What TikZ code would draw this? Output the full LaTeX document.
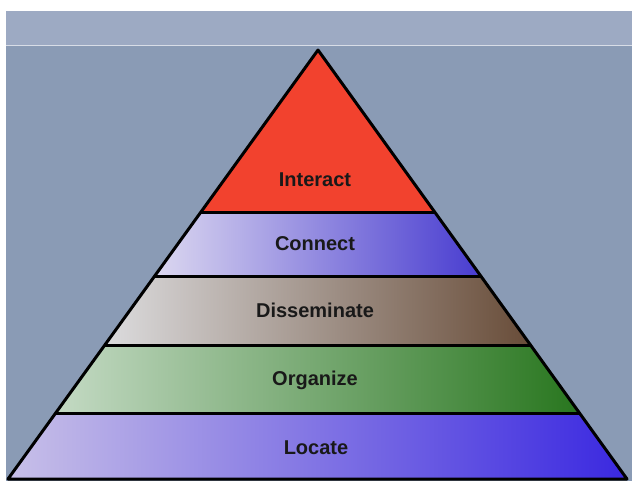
\documentclass[tikz,border=0pt]{standalone}
\usepackage{fontspec}
\setmainfont{Liberation Sans}
\definecolor{bgmain}{HTML}{8A9BB5}
\definecolor{bgtop}{HTML}{9DAAC3}
\definecolor{redtop}{RGB}{242,66,46}
\definecolor{c1l}{RGB}{220,216,240}\definecolor{c1r}{RGB}{72,60,208}
\definecolor{c2l}{RGB}{220,220,222}\definecolor{c2r}{RGB}{104,76,56}
\definecolor{c3l}{RGB}{196,218,196}\definecolor{c3r}{RGB}{40,118,30}
\definecolor{c4l}{RGB}{200,192,232}\definecolor{c4r}{RGB}{58,40,224}
\begin{document}
\begin{tikzpicture}[x=1pt,y=-1pt,
  lbl/.style={font=\bfseries\fontsize{20}{23}\selectfont, text=black!90},
  band/.style={draw=black, line width=3pt, line join=round}]
\useasboundingbox (0,0) rectangle (638,493);
\fill[white] (0,0) rectangle (638,493);
\fill[bgmain] (6,11) rectangle (632,481);
\fill[bgtop] (6,11) rectangle (632,45);
\draw[white!60!bgtop, line width=0.8pt] (6,45) -- (632,45);
\coordinate (A) at (318,50);
\coordinate (L1) at (200.6,212); \coordinate (R1) at (435.1,212);
\coordinate (L2) at (154.2,276); \coordinate (R2) at (481.3,276);
\coordinate (L3) at (104.2,345); \coordinate (R3) at (531.2,345);
\coordinate (L4) at (54.9,413);  \coordinate (R4) at (580.3,413);
\coordinate (L5) at (8,479);     \coordinate (R5) at (627,479);
\shade[left color=c4l, right color=c4r] (L4) -- (R4) -- (R5) -- (L5) -- cycle;
\shade[left color=c3l, right color=c3r] (L3) -- (R3) -- (R4) -- (L4) -- cycle;
\shade[left color=c2l, right color=c2r] (L2) -- (R2) -- (R3) -- (L3) -- cycle;
\shade[left color=c1l, right color=c1r] (L1) -- (R1) -- (R2) -- (L2) -- cycle;
\fill[redtop] (A) -- (R1) -- (L1) -- cycle;
\draw[band] (L1) -- (R1) (L2) -- (R2) (L3) -- (R3) (L4) -- (R4);
\draw[band] (A) -- (R5) -- (L5) -- cycle;
\node[lbl] (t1) at (315,180) {Interact};
\node[lbl] (t2) at (315,244) {Connect};
\node[lbl] (t3) at (315,310) {Disseminate};
\node[lbl] (t4) at (315,380) {Organize};
\node[lbl] (t5) at (316,448) {Locate};
\end{tikzpicture}
\end{document}
